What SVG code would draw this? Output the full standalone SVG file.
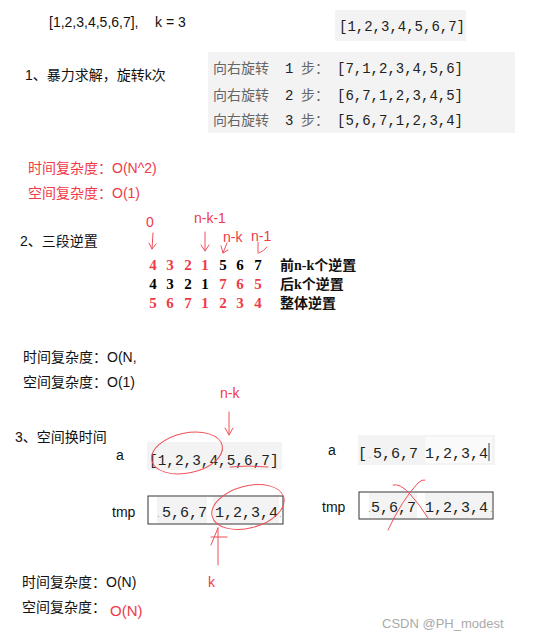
<svg xmlns="http://www.w3.org/2000/svg" width="538" height="640" viewBox="0 0 538 640">
<style>
.sans{font-family:"Liberation Sans","Noto Sans CJK SC",sans-serif;font-size:14px;fill:#111}
.red{fill:#f03a47}
.mono{font-family:"Liberation Mono","Noto Sans CJK SC",monospace;font-size:14px;fill:#222}
.cjkg{font-family:"Noto Sans CJK SC",sans-serif;font-size:14px;fill:#666}
.dig{font-family:"Liberation Serif",serif;font-size:15px;font-weight:bold;text-anchor:middle}
.lbl{font-family:"Liberation Serif","Noto Sans CJK SC",serif;font-size:14px;font-weight:bold;fill:#111}
.gbox{fill:#f3f3f3}
.pen{fill:none;stroke:#f0505a;stroke-width:1;stroke-linecap:round;stroke-linejoin:round}
</style>
<rect width="538" height="640" fill="#fff"/>

<g id="header">
<text class="sans" x="49" y="27">[1,2,3,4,5,6,7],<tspan x="155">k = 3</tspan></text>
<rect class="gbox" x="335" y="10" width="131" height="31"/>
<text class="mono" x="339" y="31">[1,2,3,4,5,6,7]</text>
</g>

<g id="section1">
<text class="sans" x="25" y="80">1、暴力求解，旋转k次</text>
<rect class="gbox" x="208" y="52" width="307" height="81"/>
<text y="73"><tspan class="cjkg" x="213">向右旋转</tspan><tspan class="mono" x="285">1</tspan><tspan class="cjkg" x="301">步：</tspan><tspan class="mono" x="337">[7,1,2,3,4,5,6]</tspan></text>
<text y="100"><tspan class="cjkg" x="213">向右旋转</tspan><tspan class="mono" x="285">2</tspan><tspan class="cjkg" x="301">步：</tspan><tspan class="mono" x="337">[6,7,1,2,3,4,5]</tspan></text>
<text y="125"><tspan class="cjkg" x="213">向右旋转</tspan><tspan class="mono" x="285">3</tspan><tspan class="cjkg" x="301">步：</tspan><tspan class="mono" x="337">[5,6,7,1,2,3,4]</tspan></text>
<text class="sans red" x="28" y="173">时间复杂度：O(N^2)</text>
<text class="sans red" x="28" y="198">空间复杂度：O(1)</text>
</g>

<g id="section2">
<text class="sans" x="20" y="246">2、三段逆置</text>
<text class="sans red" x="146" y="227">0</text>
<text class="sans red" x="194" y="223">n-k-1</text>
<text class="sans red" x="223" y="242">n-k</text>
<text class="sans red" x="251" y="241">n-1</text>
<g class="pen">
<path d="M153 233 L152 249 M149 243 L152 249 L156 244"/>
<path d="M205 232 L205 251 M201 245 L205 251 L209 245"/>
<path d="M227 243 L223 253 M221 246 L223 253 L228 250"/>
<path d="M258 242 L258 253 M267 247 Q264 251 259 253"/>
</g>
<g class="dig">
<text y="270" class="red" x="153">4</text>
<text y="270" class="red" x="170">3</text>
<text y="270" class="red" x="188">2</text>
<text y="270" class="red" x="205">1</text>
<text y="270" x="223">5</text>
<text y="270" x="240">6</text>
<text y="270" x="258">7</text>
<text y="289" x="153">4</text>
<text y="289" x="170">3</text>
<text y="289" x="188">2</text>
<text y="289" x="205">1</text>
<text y="289" class="red" x="223">7</text>
<text y="289" class="red" x="240">6</text>
<text y="289" class="red" x="258">5</text>
<text y="308" class="red" x="153">5</text>
<text y="308" class="red" x="170">6</text>
<text y="308" class="red" x="188">7</text>
<text y="308" class="red" x="205">1</text>
<text y="308" class="red" x="223">2</text>
<text y="308" class="red" x="240">3</text>
<text y="308" class="red" x="258">4</text>
</g>
<text class="lbl" x="280" y="270">前n-k个逆置</text>
<text class="lbl" x="280" y="289">后k个逆置</text>
<text class="lbl" x="280" y="308">整体逆置</text>
<text class="sans" x="23" y="362">时间复杂度：O(N,</text>
<text class="sans" x="23" y="387">空间复杂度：O(1)</text>
</g>

<g id="section3">
<text class="sans" x="15" y="442">3、空间换时间</text>
<text class="sans red" x="220" y="398">n-k</text>
<path class="pen" d="M229 412 L229 435 M225 428 L229 435 L233 428"/>
<text class="sans" x="116" y="460">a</text>
<rect class="gbox" x="147" y="442" width="135" height="28"/>
<text class="mono" x="149" y="465" style="font-size:14.4px">[1,2,3,4,5,6,7]</text>
<ellipse class="pen" cx="187" cy="453" rx="36" ry="20" transform="rotate(-12 187 453)"/>
<path class="pen" d="M230 467 Q249 465 268 467"/>

<text class="sans" x="112" y="517">tmp</text>
<rect x="148" y="496" width="135" height="28" fill="#fff" stroke="#333" stroke-width="1"/>
<rect class="gbox" x="157" y="497" width="50" height="26"/>
<rect class="gbox" x="213" y="497" width="66" height="26"/>
<text class="mono" y="517" style="font-size:15px"><tspan x="156" fill="#999" style="font-size:8px">.</tspan><tspan x="162">5,6,7</tspan><tspan x="215">1,2,3,4</tspan><tspan x="278" fill="#999" style="font-size:8px">.</tspan></text>
<ellipse class="pen" cx="248" cy="507" rx="37" ry="21" transform="rotate(-15 248 507)"/>
<path class="pen" d="M218 565 L218 528 M211 545 L218 528 M211 537 L227 537"/>
<text class="sans red" x="208" y="587">k</text>

<text class="sans" x="328" y="455">a</text>
<rect class="gbox" x="358" y="435" width="137" height="30"/>
<rect x="425" y="437" width="67" height="26" fill="#fafafa"/>
<text class="mono" y="458" style="font-size:15px"><tspan x="358">[</tspan><tspan x="368" fill="#6a8fb0" style="font-size:6px">.</tspan><tspan x="373">5,6,7</tspan><tspan x="425">1,2,3,4</tspan></text>
<line x1="489" y1="443" x2="489" y2="461" stroke="#345" stroke-width="1"/>

<text class="sans" x="322" y="512">tmp</text>
<rect x="359" y="492" width="134" height="27" fill="#fff" stroke="#333" stroke-width="1"/>
<rect class="gbox" x="369" y="493" width="48" height="25"/>
<rect class="gbox" x="425" y="493" width="67" height="25"/>
<text class="mono" y="512" style="font-size:15px"><tspan x="367" fill="#999" style="font-size:8px">.</tspan><tspan x="371">5,6,7</tspan><tspan x="425">1,2,3,4</tspan><tspan x="489" fill="#999" style="font-size:8px">.</tspan></text>
<path class="pen" d="M388 530 Q402 500 418 483 Q422 479 425 480"/>
<path class="pen" d="M393 485 Q400 483 410 494 Q420 505 428 518"/>

<text class="sans" x="22" y="587">时间复杂度：O(N)</text>
<text class="sans" x="22" y="612">空间复杂度：</text>
<text class="sans red" x="110" y="616" style="font-size:15px">O(N)</text>
</g>

<text id="watermark" x="382" y="628" style="font-family:'Liberation Sans',sans-serif;font-size:13px;fill:#aaa">CSDN @PH_modest</text>
</svg>
